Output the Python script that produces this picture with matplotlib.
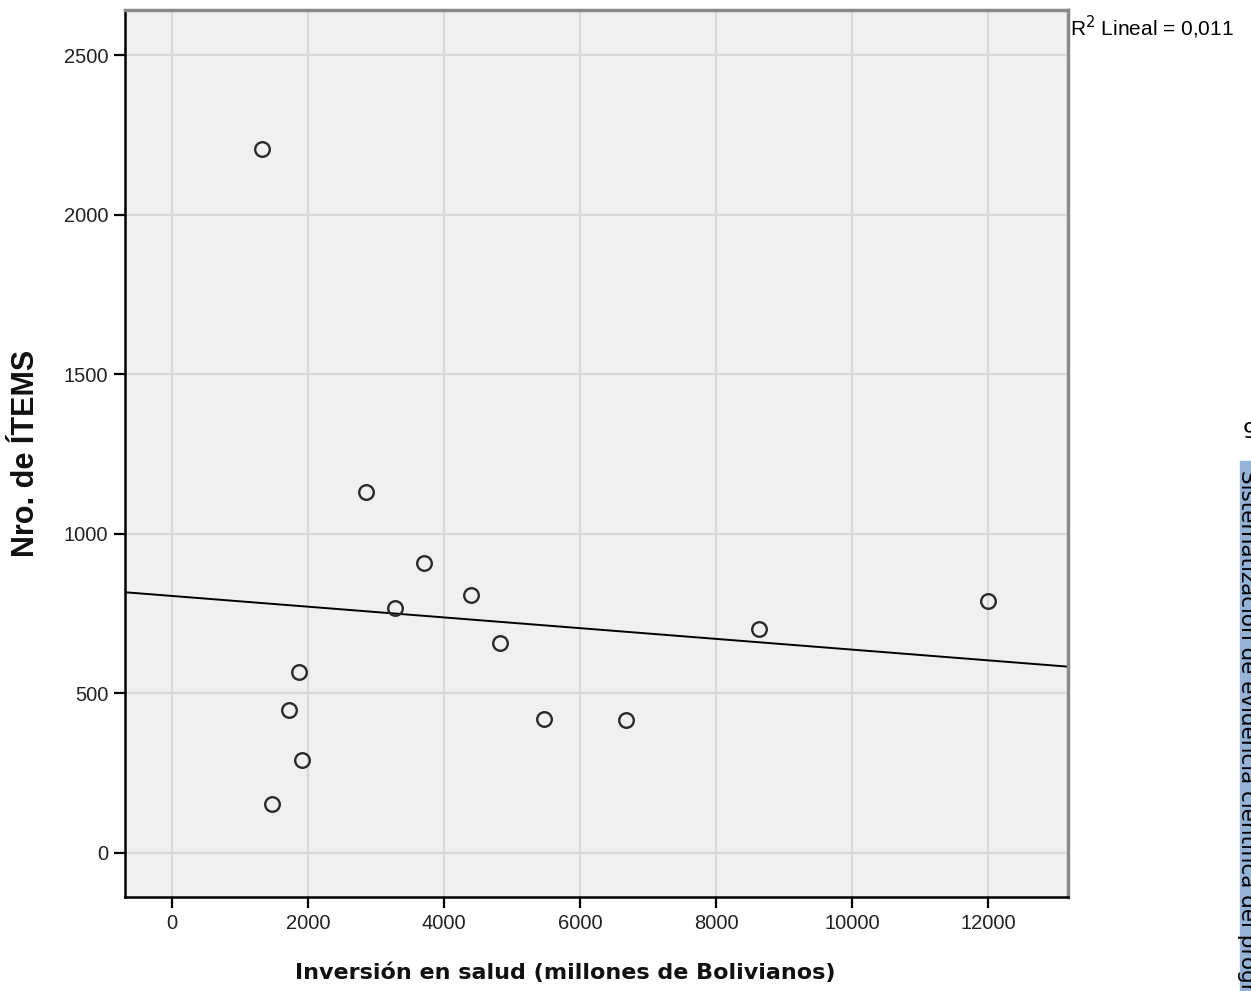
import matplotlib.pyplot as plt
import numpy as np

# inversion en salud (millones Bs) vs nro de items
inversion = [1329, 2859, 3706, 4403, 3285, 4824, 1863, 1721, 1918, 1476, 5471, 6672, 8635, 12000]
items = [2204, 1131, 907, 809, 766, 658, 566, 448, 290, 152, 419, 417, 703, 790]

xticks = [0, 2000, 4000, 6000, 8000, 10000, 12000]
yticks = [0, 500, 1000, 1500, 2000, 2500]
xlim = (-691, 13176)
ylim = (-138, 2641)

fig = plt.figure(figsize=(12.51, 9.91), dpi=100)
ax = fig.add_axes([0.0999, 0.0949, 0.7538, 0.895])
ax.set_facecolor('#F0F0F0')

ax.set_xticks(xticks)
ax.set_yticks(yticks)
ax.set_xlim(xlim)
ax.set_ylim(ylim)
ax.grid(True, color='#D8D8D8', linewidth=1.5)
ax.set_axisbelow(True)

# fit line over the whole x range
m, b = np.polyfit(inversion, items, 1)
xs = np.array(xlim)
ax.plot(xs, m*xs + b, color='black', linewidth=1.4)

ax.plot(inversion, items, 'o', ms=10.5, mfc='none', mec='#2a2a2a', mew=1.7)

for s in ['left', 'bottom']:
    ax.spines[s].set_color('black')
    ax.spines[s].set_linewidth(1.8)
for s in ['top', 'right']:
    ax.spines[s].set_color('#8a8a8a')
    ax.spines[s].set_linewidth(2.5)

ax.tick_params(direction='out', length=8, width=1.6, color='black', pad=4)
for lab in ax.get_xticklabels() + ax.get_yticklabels():
    lab.set_family('Liberation Sans')
    lab.set_fontsize(14.5)
    lab.set_color('#222222')

ax.set_xlabel('Inversión en salud (millones de Bolivianos)', family='DejaVu Sans',
              fontweight='bold', fontsize=16, color='#111111')
ax.xaxis.set_label_coords(0.467, -0.074)
ax.set_ylabel('Nro. de ÍTEMS', family='Liberation Sans', fontweight='bold',
              fontsize=22, color='#111111')
ax.yaxis.set_label_coords(-0.089, 0.5)

fig.text(0.8553, 0.9725, r'R$^2$ Lineal = 0,011', family='Liberation Sans',
         fontsize=15, va='center', ha='left')

# page border bits on the right
fig.patches.append(plt.Rectangle((0.9912, 0), 0.01, 0.535, transform=fig.transFigure,
                                 color='#95B3D7', zorder=0))
fig.text(0.9935, 0.5641, '9', fontsize=16, family='DejaVu Sans', ha='left', va='center')
fig.text(0.992, 0.5257, 'Sistematización de evidencia científica del programa',
         rotation=-90, rotation_mode='anchor', fontsize=15.5, family='DejaVu Sans',
         ha='left', va='baseline')

fig.savefig('out.png', dpi=100)
